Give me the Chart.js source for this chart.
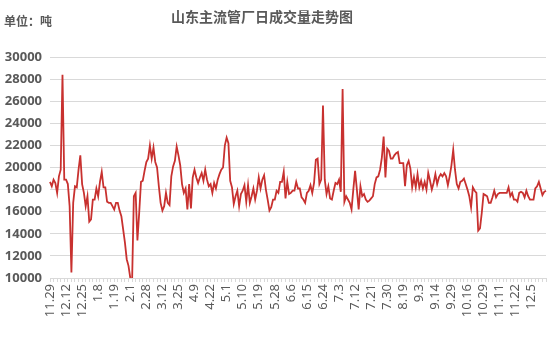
<!DOCTYPE html>
<html>
<head>
<meta charset="utf-8">
<script src="https://cdn.jsdelivr.net/npm/chart.js@4.4.1/dist/chart.umd.min.js"></script>
<style>
  html, body { margin: 0; padding: 0; background: #ffffff; }
  #wrap { position: relative; width: 554px; height: 360px; }
  #title { position: absolute; left: 0; top: 6px; width: 524px; text-align: center;
    font: bold 14px "Noto Sans CJK SC", sans-serif; color: #595959; }
  #unit { position: absolute; left: 4px; top: 12px;
    font: bold 12px "Noto Sans CJK SC", sans-serif; color: #595959; }
  canvas { position: absolute; left: 0; top: 0; }
</style>
</head>
<body>
<div id="wrap">
  <canvas id="c" width="554" height="360"></canvas>
  <div id="title">山东主流管厂日成交量走势图</div>
  <div id="unit">单位：吨</div>
</div>
<script>
// Tick labels shown on the x axis (one every 9 data points)
const tickLabels = ["11.29","12.12","12.25","1.8","1.19","2.1","2.28","3.12","3.25","4.9",
  "4.22","5.1","5.10","5.19","5.28","6.6","6.15","6.24","7.3","7.12",
  "7.21","7.30","8.19","9.3","9.14","9.29","10.16","10.29","11.11","11.22","12.5"];
const labelEvery = 9;

// Daily volume (tonnes)
const volume = [
  18700,18300,18900,18600,17700,19200,19800,28400,18900,18900,
  18500,16500,10500,16800,18300,18200,19800,21100,18500,17700,
  16500,17400,15100,15300,17100,17100,18100,17400,18700,19600,
  18200,18200,16900,16800,16800,16500,16200,16800,16800,16100,
  15600,14400,13200,11700,11100,10000,9600,17400,17700,13400,
  15900,18700,18800,19700,20500,20800,22000,20800,21800,20500,
  20000,18300,16800,16100,16500,17700,16800,16600,19200,20100,
  20600,21900,21100,20200,18500,17700,18100,16200,18500,16300,
  19100,19800,19100,18600,19100,19500,18800,19800,18900,18300,
  18500,17700,18600,18100,18900,19400,19800,20000,22000,22700,
  22200,18800,18200,16700,17400,17900,16500,17600,17900,18400,
  16900,18400,16800,17400,18100,17100,17900,19100,18100,18900,
  19300,18000,17100,16100,16400,17100,17100,17900,17700,18700,
  18700,19600,17200,18700,17600,17700,17900,17900,18700,18100,
  18100,17300,17100,16800,17700,17900,18400,17700,18600,20700,
  20800,18500,18900,25600,18900,17600,18300,17200,17100,17900,
  18600,18500,18900,17800,27100,16900,17400,17100,16800,16200,
  18000,19700,18000,16200,18300,17400,17600,17100,16900,17000,
  17200,17400,18500,19100,19200,19800,20900,22800,19100,21700,
  21500,20800,20800,21100,21300,21400,20400,20400,20400,18300,
  20200,20600,19900,18200,19100,18200,19400,18200,18800,18100,
  18700,18000,19500,18800,18000,18600,19400,18500,19100,19400,
  19200,19500,19200,18400,19200,20200,21600,19800,18500,18100,
  18700,18800,19000,18500,18000,17400,16400,18200,17900,17700,
  14300,14500,15900,17600,17500,17400,16800,16800,17300,17900,
  17300,17600,17700,17700,17700,17700,17700,18200,17400,17700,
  17100,17100,16900,17700,17800,17700,17300,17900,17400,17100,
  17100,17100,18100,18300,18700,18100,17500,17800,17900
];

const yMin = 10000, yMax = 30000, yStep = 2000;

const categories = volume.map((v, i) => (i % labelEvery === 0 && tickLabels[i / labelEvery] !== undefined) ? tickLabels[i / labelEvery] : "");

const textColor = "#595959";
const gridColor = "#d9d9d9";

new Chart(document.getElementById("c"), {
  type: "line",
  data: {
    labels: categories,
    datasets: [{
      data: volume,
      borderColor: "#c8312f",
      borderWidth: 1.8,
      pointRadius: 0,
      tension: 0,
      fill: false
    }]
  },
  options: {
    responsive: false,
    animation: false,
    layout: { padding: { top: 57, right: 0, left: 0, bottom: 0 } },
    plugins: { legend: { display: false }, tooltip: { enabled: false }, title: { display: false } },
    scales: {
      x: {
        type: "category",
        offset: false,
        afterFit: (s) => { s.height = 82; s.paddingRight = 8; s.paddingLeft = 0; },
        grid: {
          drawOnChartArea: false,
          drawTicks: true,
          tickLength: 4,
          color: (ctx) => (ctx.index % 2 === 0 ? gridColor : "rgba(0,0,0,0)")
        },
        border: { display: true, color: gridColor, width: 1 },
        ticks: {
          autoSkip: false,
          maxRotation: 90,
          minRotation: 90,
          padding: 2,
          color: textColor,
          font: { family: "'Noto Sans', 'Noto Sans CJK SC', sans-serif", size: 13 },
          callback: function (value) { return this.getLabelForValue(value); }
        }
      },
      y: {
        min: yMin,
        max: yMax,
        afterFit: (s) => { s.width = 50; },
        grid: { color: gridColor, drawTicks: false, lineWidth: 1 },
        border: { display: false },
        ticks: {
          stepSize: yStep,
          padding: 8,
          color: textColor,
          font: { family: "'Noto Sans', 'Noto Sans CJK SC', sans-serif", size: 13, weight: "bold" },
          callback: (value) => String(value)
        }
      }
    }
  }
});
</script>
</body>
</html>
